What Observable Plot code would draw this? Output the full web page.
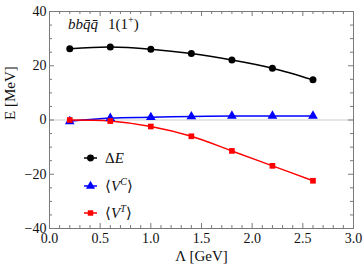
<!DOCTYPE html>
<html>
<head>
<meta charset="utf-8">
<script src="https://cdn.jsdelivr.net/npm/d3@7"></script>
<script src="https://cdn.jsdelivr.net/npm/@observablehq/plot@0.6"></script>
<style>
  html, body { margin: 0; padding: 0; background: #fff; }
  svg { display: block; }
  svg text { font-family: 'Liberation Serif', 'Times New Roman', serif !important; }
</style>
</head>
<body>
<div id="chart"></div>
<script>
// ---- data ----
const lambda = [0.2, 0.6, 1.0, 1.4, 1.8, 2.2, 2.6];
const deltaE = [26.3, 26.9, 26.1, 24.5, 22.1, 19.1, 14.8];
const vC     = [-0.5, 0.7, 1.0, 1.3, 1.5, 1.5, 1.5];
const vT     = [0.0, -0.4, -2.4, -6.0, -11.4, -16.9, -22.4];

const xMajorTicks = [0, 0.5, 1.0, 1.5, 2.0, 2.5, 3.0];
const xMinorTicks = [0.1, 0.2, 0.3, 0.4, 0.6, 0.7, 0.8, 0.9, 1.1, 1.2, 1.3, 1.4, 1.6, 1.7, 1.8, 1.9, 2.1, 2.2, 2.3, 2.4, 2.6, 2.7, 2.8, 2.9];
const yMajorTicks = [-40, -20, 0, 20, 40];
const yMinorTicks = [-35, -30, -25, -15, -10, -5, 5, 10, 15, 25, 30, 35];

const xLabel = "Λ [GeV]";
const yLabel = "E [MeV]";

const rowsE = lambda.map((x, i) => ({x, y: deltaE[i]}));
const rowsC = lambda.map((x, i) => ({x, y: vC[i]}));
const rowsT = lambda.map((x, i) => ({x, y: vT[i]}));

// ---- layout ----
const W = 364, H = 273;
const mL = 49, mR = 11, mT = 11, mB = 45;
const fw = W - mL - mR, fh = H - mT - mB;
const font = "'Liberation Serif', 'Times New Roman', serif";
const frameColor = "#7a7a7a";

const plot = Plot.plot({
  width: W, height: H,
  marginLeft: mL, marginRight: mR, marginTop: mT, marginBottom: mB,
  style: {fontFamily: font, fontSize: "14px", background: "white", color: "#111"},
  x: {domain: [0, 3]},
  y: {domain: [-40, 40]},
  marks: [
    Plot.ruleY([0], {stroke: "#dddddd", strokeWidth: 1.5}),
    // inward ticks: bottom/top
    Plot.tickX(xMajorTicks, {x: d => d, insetTop: fh - 5, stroke: frameColor}),
    Plot.tickX(xMinorTicks, {x: d => d, insetTop: fh - 3, stroke: frameColor}),
    Plot.tickX(xMajorTicks, {x: d => d, insetBottom: fh - 5, stroke: frameColor}),
    Plot.tickX(xMinorTicks, {x: d => d, insetBottom: fh - 3, stroke: frameColor}),
    // inward ticks: left/right
    Plot.tickY(yMajorTicks, {y: d => d, insetRight: fw - 5, stroke: frameColor}),
    Plot.tickY(yMinorTicks, {y: d => d, insetRight: fw - 3, stroke: frameColor}),
    Plot.tickY(yMajorTicks, {y: d => d, insetLeft: fw - 5, stroke: frameColor}),
    Plot.tickY(yMinorTicks, {y: d => d, insetLeft: fw - 3, stroke: frameColor}),
    Plot.frame({stroke: frameColor}),
    Plot.axisX(xMajorTicks, {tickSize: 0, tickPadding: 5, tickFormat: d3.format(".1f"), label: null, fontSize: 14, fontFamily: font}),
    Plot.axisY(yMajorTicks, {tickSize: 0, tickPadding: 3, tickFormat: d => d < 0 ? "−" + Math.abs(d) : String(d), label: null, fontSize: 14, fontFamily: font}),
    Plot.text([xLabel], {frameAnchor: "bottom", dy: 32, fontSize: 15, fontFamily: font, text: d => d}),
    Plot.text([yLabel], {frameAnchor: "left", dx: -39, rotate: -90, fontSize: 15, fontFamily: font, text: d => d}),
    // series
    Plot.line(rowsE, {x: "x", y: "y", stroke: "black", strokeWidth: 1.5, curve: "catmull-rom"}),
    Plot.line(rowsC, {x: "x", y: "y", stroke: "#0000ff", strokeWidth: 1.5, curve: "catmull-rom"}),
    Plot.line(rowsT, {x: "x", y: "y", stroke: "#ff0000", strokeWidth: 1.5, curve: "catmull-rom"}),
    Plot.dot(rowsE, {x: "x", y: "y", fill: "black", r: 3.5, symbol: "circle"}),
    Plot.dot(rowsC, {x: "x", y: "y", fill: "#0000ff", r: 3.6, symbol: "triangle"}),
    Plot.dot(rowsT, {x: "x", y: "y", fill: "#ff0000", r: 3.2, symbol: "square"})
  ]
});
document.getElementById("chart").appendChild(plot);

// ---- in-plot title and legend ----
const svg = d3.select(plot);
const t = svg.append("text").attr("x", 68).attr("y", 29).attr("text-anchor", "start")
  .attr("font-family", font).attr("font-size", 15).attr("fill", "#111");
t.append("tspan").attr("font-style", "italic").text("bbq\u0304q\u0304");
t.append("tspan").attr("dx", 10).text("1(1");
t.append("tspan").attr("dy", -6).attr("font-size", 10).text("+");
t.append("tspan").attr("dy", 6).text(")");

const legend = [
  {color: "black", sym: d3.symbolCircle, size: 38, parts: [["Δ", "normal"], ["E", "italic"]], sup: null},
  {color: "#0000ff", sym: d3.symbolTriangle, size: 36, parts: [["⟨", "normal"], ["V", "italic"]], sup: "C"},
  {color: "#ff0000", sym: d3.symbolSquare, size: 30, parts: [["⟨", "normal"], ["V", "italic"]], sup: "T"}
];
const ly = [158, 186, 213];
legend.forEach((d, i) => {
  const g = svg.append("g").attr("transform", `translate(0,${ly[i]})`);
  g.append("line").attr("x1", 84).attr("x2", 97).attr("stroke", d.color).attr("stroke-width", 1.5);
  g.append("path").attr("transform", "translate(90.5,0)").attr("d", d3.symbol(d.sym, d.size)()).attr("fill", d.color);
  const tx = g.append("text").attr("x", 105).attr("y", 5).attr("text-anchor", "start")
    .attr("font-family", font).attr("font-size", 15).attr("fill", "#111");
  d.parts.forEach(([s, st]) => tx.append("tspan").attr("font-style", st).text(s));
  if (d.sup) {
    tx.append("tspan").attr("dy", -6).attr("font-size", 10).attr("font-style", "italic").text(d.sup);
    tx.append("tspan").attr("dy", 6).attr("font-style", "normal").text("⟩");
  }
});
</script>
</body>
</html>
